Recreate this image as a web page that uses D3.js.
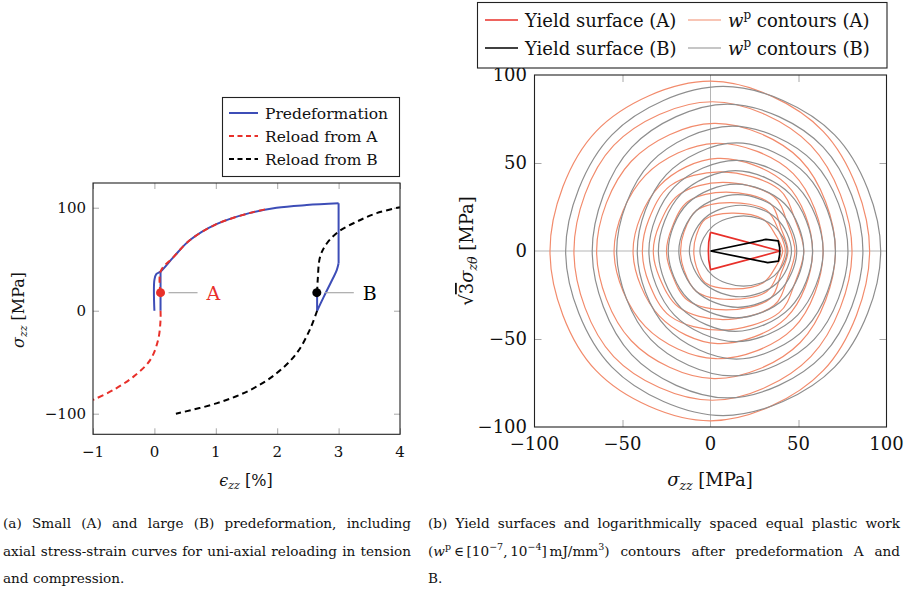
<!DOCTYPE html>
<html><head><meta charset="utf-8">
<script src="https://cdn.jsdelivr.net/npm/d3@7"></script>
<style>
body{margin:0;background:#fff;}
svg{display:block;}
text{font-family:"DejaVu Serif",serif;fill:#111;}
</style>
</head><body>
<svg id="c" width="904" height="590"></svg>
<script>
// ---------- data: left chart (strain %, stress MPa) ----------
const strainTicks = [-1, 0, 1, 2, 3, 4];
const stressTicks = [-100, 0, 100];
const predefLoad = [[0,0],[0,30],[0.03,35.5],[0.1,38],[0.31,52],[0.58,68.6],[1.01,84],[1.56,95],[1.99,100],[2.48,102.6],[3,104.3]];
const predefDrop = [[3,104.3],[3,46]];
const predefUnloadB = [[3,46],[2.97,39.5],[2.87,26.9],[2.76,13.7],[2.65,0]];
const predefEndB = [[2.65,0],[2.65,17.5]];
const predefUnloadA = [[0.1,38],[0.1,0]];
const reloadAT = [[0.1,17.5],[0.1,38],[0.31,52],[0.58,68.6],[1.01,84],[1.56,95],[1.85,99]];
const reloadAC = [[0.1,0],[0.1,-9],[0.06,-28.5],[-0.07,-48],[-0.34,-64],[-0.67,-77],[-1,-86.6]];
const reloadBT = [[2.65,17.5],[2.66,30],[2.7,52.6],[2.81,65.5],[3.0,76.8],[3.3,86.6],[3.62,94.7],[4.0,100.5]];
const reloadBC = [[2.65,0],[2.53,-18.6],[2.32,-41],[1.99,-60.8],[1.56,-77],[1.01,-90],[0.35,-100]];
const pointA = [0.1, 17.5];
const pointB = [2.645, 17.5];
const legendLeft = ["Predeformation", "Reload from A", "Reload from B"];

// ---------- data: right chart (sigma_zz, sqrt3 sigma_ztheta, MPa) ----------
const planeTicks = [-100, -50, 0, 50, 100];
const yieldA = [[0,10.6],[39.5,0],[0,-10.6],[-1,-5],[-1.2,0],[-1,5],[0,10.6]];
const yieldB = [[0,0],[31.5,6.6],[38.5,5.7],[39.3,2],[39.3,-2],[38.6,-5.8],[32.5,-6.6],[0,0]];
const contoursA = [
  [[90.4,0],[64,68],[0,96.5],[-65,68],[-91.2,0],[-65,-68],[0,-96.5],[64,-68]],
  [[80.4,0],[57,60],[1,84.8],[-55,60],[-77.6,0],[-55,-60],[1,-84.8],[57,-60]],
  [[71,0],[51,52],[2,72.5],[-45,51],[-64.7,0],[-45,-51],[2,-72.5],[51,-52]],
  [[64,0],[47,44],[3,61.2],[-37,43],[-54.8,0],[-37,-43],[3,-61.2],[47,-44]],
  [[58,0],[43,38],[4,52.6],[-29,37],[-44,0],[-29,-37],[4,-52.6],[43,-38]],
  [[53,0],[48,18],[39,35],[6,45],[-23,37],[-35,18],[-38.7,0],[-35,-18],[-23,-37],[6,-45],[39,-35],[48,-18]],
  [[48,0],[44,15],[36,31],[7,39],[-18,32],[-29,15],[-32.5,0],[-29,-15],[-18,-32],[7,-39],[36,-31],[44,-15]],
  [[44,0],[40,13],[34,27],[9,33.5],[-13,28],[-22,13],[-25,0],[-22,-13],[-13,-28],[9,-33.5],[34,-27],[40,-13]],
  [[42.5,0],[39,11],[32,23],[11,27.5],[-8,23],[-15,11],[-17,0],[-15,-11],[-8,-23],[11,-27.5],[32,-23],[39,-11]],
  [[41,0],[37,9],[30,18],[12,21.5],[-3,18],[-8,9],[-9.5,0],[-8,-9],[-3,-18],[12,-21.5],[30,-18],[37,-9]]
];
const contoursB = [
  [[96.7,0],[70.5,66],[7.2,93.5],[-56,66],[-82.3,0],[-56,-66],[7.2,-93.5],[70.5,-66]],
  [[86.6,0],[64,59],[9.7,83.5],[-44.7,59],[-67.2,0],[-44.7,-59],[9.7,-83.5],[64,-59]],
  [[78.1,0],[58.9,50.2],[12.4,71],[-34,50.2],[-53.3,0],[-34,-50.2],[12.4,-71],[58.9,-50.2]],
  [[71,0],[54.5,43.4],[14.7,61.4],[-25.1,43.4],[-41.6,0],[-25.1,-43.4],[14.7,-61.4],[54.5,-43.4]],
  [[64,0],[49.5,36.4],[14.5,51.5],[-20.5,36.4],[-35,0],[-20.5,-36.4],[14.5,-51.5],[49.5,-36.4]],
  [[58,0],[45.2,32.3],[14.2,45.7],[-16.8,32.3],[-29.6,0],[-16.8,-32.3],[14.2,-45.7],[45.2,-32.3]],
  [[53,0],[42,27],[14.5,38],[-13,27],[-24,0],[-13,-27],[14.5,-38],[42,-27]],
  [[49,0],[39,23],[15.5,32],[-8,23],[-18,0],[-8,-23],[15.5,-32],[39,-23]],
  [[46,0],[37.5,18.5],[17,26],[-3.5,18.5],[-12,0],[-3.5,-18.5],[17,-26],[37.5,-18.5]],
  [[43.5,0],[36.3,14],[18.75,20],[1.2,14],[-6,0],[1.2,-14],[18.75,-20],[36.3,-14]]
];

// ---------- styles ----------
const C = {blue:"#3d4db7", red:"#e8302a", black:"#000", salmon:"#f28b6c", gray:"#8e8e8e", tick:"#a8a8a8"};

const svg = d3.select("#c");
const defs = svg.append("defs");

// ================= LEFT CHART =================
const xL = d3.scaleLinear().domain([-1,4]).range([93,400]);
const yL = d3.scaleLinear().domain([-120,124]).range([434.3,183]);
defs.append("clipPath").attr("id","clipL").append("rect")
  .attr("x",93).attr("y",183).attr("width",307).attr("height",251.3);

const gL = svg.append("g");
function tickStyle(g){ g.select(".domain").remove(); g.selectAll(".tick line").attr("stroke",C.tick).attr("stroke-width",1); g.selectAll("text").remove(); }
gL.append("g").attr("transform",`translate(0,${yL.range()[0]})`).call(d3.axisBottom(xL).tickValues(strainTicks).tickSize(-6)).call(tickStyle);
gL.append("g").attr("transform",`translate(0,${yL.range()[1]})`).call(d3.axisTop(xL).tickValues(strainTicks).tickSize(-6)).call(tickStyle);
gL.append("g").attr("transform",`translate(${xL.range()[0]},0)`).call(d3.axisLeft(yL).tickValues(stressTicks).tickSize(-6)).call(tickStyle);
gL.append("g").attr("transform",`translate(${xL.range()[1]},0)`).call(d3.axisRight(yL).tickValues(stressTicks).tickSize(-6)).call(tickStyle);

gL.selectAll(".xl").data(strainTicks).join("text").attr("x",d=>xL(d)).attr("y",457)
  .attr("text-anchor","middle").attr("font-size",15).text(d=>d3.format("")(d));
gL.selectAll(".yl").data(stressTicks).join("text").attr("x",86).attr("y",d=>yL(d)+5)
  .attr("text-anchor","end").attr("font-size",15).text(d=>d3.format("")(d));

const lineL = d3.line().x(d=>xL(d[0])).y(d=>yL(d[1]));
const curveL = d3.line().x(d=>xL(d[0])).y(d=>yL(d[1])).curve(d3.curveCatmullRom.alpha(0.5));
const pl = gL.append("g").attr("clip-path","url(#clipL)");

[[predefLoad,curveL],[predefDrop,lineL],[predefUnloadB,curveL],[predefEndB,lineL],[predefUnloadA,lineL]].forEach(([d,gen])=>{
  pl.append("path").attr("d",gen(d)).attr("fill","none").attr("stroke",C.blue).attr("stroke-width",2).attr("stroke-linejoin","round");
});
[[reloadAT,C.red],[reloadAC,C.red],[reloadBT,C.black],[reloadBC,C.black]].forEach(([d,c])=>{
  pl.append("path").attr("d",curveL(d)).attr("fill","none").attr("stroke",c).attr("stroke-width",2).attr("stroke-dasharray","6,4");
});
gL.append("rect").attr("x",93).attr("y",183).attr("width",307).attr("height",251.3).attr("fill","none").attr("stroke","#222").attr("stroke-width",1.1);

[[pointA,C.red,"A"],[pointB,C.black,"B"]].forEach(([p,c,t])=>{
  const px = xL(p[0]), py = yL(p[1]);
  gL.append("line").attr("x1",px+8).attr("x2",px+37).attr("y1",py).attr("y2",py).attr("stroke","#aaa").attr("stroke-width",1.2);
  gL.append("circle").attr("cx",px).attr("cy",py).attr("r",4.5).attr("fill",c);
  gL.append("text").attr("x",px+46).attr("y",py+7).attr("font-size",19).style("fill",c).text(t);
});

const xlabL = gL.append("text").attr("x",246).attr("y",486).attr("text-anchor","middle").attr("font-size",16);
xlabL.append("tspan").attr("font-style","italic").text("ϵ");
xlabL.append("tspan").attr("font-style","italic").attr("font-size",11).attr("dy",3).text("zz");
xlabL.append("tspan").attr("dy",-3).text(" [%]");
const ylabL = gL.append("text").attr("transform","translate(24,310) rotate(-90)").attr("text-anchor","middle").attr("font-size",16);
ylabL.append("tspan").attr("font-style","italic").text("σ");
ylabL.append("tspan").attr("font-style","italic").attr("font-size",11).attr("dy",3).text("zz");
ylabL.append("tspan").attr("dy",-3).text(" [MPa]");

const lgL = svg.append("g");
lgL.append("rect").attr("x",222.5).attr("y",97.5).attr("width",177).attr("height",79).attr("fill","#fff").attr("stroke","#222").attr("stroke-width",1.1);
const legStyles = [[C.blue,null],[C.red,"5,3.5"],[C.black,"5,3.5"]];
legendLeft.forEach((t,i)=>{
  const y = 113 + i*23;
  lgL.append("line").attr("x1",229).attr("x2",258).attr("y1",y).attr("y2",y)
    .attr("stroke",legStyles[i][0]).attr("stroke-width",2).attr("stroke-dasharray",legStyles[i][1]);
  lgL.append("text").attr("x",265).attr("y",y+5.5).attr("font-size",15.5).text(t);
});

// ================= RIGHT CHART =================
const xR = d3.scaleLinear().domain([-100,100]).range([534.5,886.5]);
const yR = d3.scaleLinear().domain([-100,100]).range([427,75]);
defs.append("clipPath").attr("id","clipR").append("rect")
  .attr("x",534.5).attr("y",75).attr("width",352).attr("height",352);
const gR = svg.append("g");
gR.append("line").attr("x1",xR(0)).attr("x2",xR(0)).attr("y1",yR(100)).attr("y2",yR(-100)).attr("stroke","#b5b5b5").attr("stroke-width",1);
gR.append("line").attr("y1",yR(0)).attr("y2",yR(0)).attr("x1",xR(-100)).attr("x2",xR(100)).attr("stroke","#b5b5b5").attr("stroke-width",1);
const innerTicks = [-50,50];
gR.append("g").attr("transform",`translate(0,427)`).call(d3.axisBottom(xR).tickValues(innerTicks).tickSize(-7)).call(tickStyle);
gR.append("g").attr("transform",`translate(0,75)`).call(d3.axisTop(xR).tickValues(innerTicks).tickSize(-7)).call(tickStyle);
gR.append("g").attr("transform",`translate(534.5,0)`).call(d3.axisLeft(yR).tickValues(innerTicks).tickSize(-7)).call(tickStyle);
gR.append("g").attr("transform",`translate(886.5,0)`).call(d3.axisRight(yR).tickValues(innerTicks).tickSize(-7)).call(tickStyle);

const pr = gR.append("g").attr("clip-path","url(#clipR)");
const closedR = d3.line().x(d=>xR(d[0])).y(d=>yR(d[1])).curve(d3.curveCatmullRomClosed.alpha(0.5));
const lineR = d3.line().x(d=>xR(d[0])).y(d=>yR(d[1]));
contoursA.forEach(c=>pr.append("path").attr("d",closedR(c)).attr("fill","none").attr("stroke",C.salmon).attr("stroke-width",1.2));
contoursB.forEach(c=>pr.append("path").attr("d",closedR(c)).attr("fill","none").attr("stroke",C.gray).attr("stroke-width",1.2));
pr.append("path").attr("d",lineR(yieldA)).attr("fill","none").attr("stroke",C.red).attr("stroke-width",1.7).attr("stroke-linejoin","round");
pr.append("path").attr("d",lineR(yieldB)).attr("fill","none").attr("stroke",C.black).attr("stroke-width",1.7).attr("stroke-linejoin","round");
gR.append("rect").attr("x",534.5).attr("y",75).attr("width",352).attr("height",352).attr("fill","none").attr("stroke","#222").attr("stroke-width",1.1);

gR.selectAll(".xr").data(planeTicks).join("text").attr("x",d=>xR(d)).attr("y",450)
  .attr("text-anchor","middle").attr("font-size",18).text(d=>d3.format("")(d));
gR.selectAll(".yr").data(planeTicks).join("text").attr("x",527).attr("y",d=>yR(d)+6)
  .attr("text-anchor","end").attr("font-size",18).text(d=>d3.format("")(d));

const xlabR = gR.append("text").attr("x",710).attr("y",486).attr("text-anchor","middle").attr("font-size",18);
xlabR.append("tspan").attr("font-style","italic").text("σ");
xlabR.append("tspan").attr("font-style","italic").attr("font-size",12.5).attr("dy",4).text("zz");
xlabR.append("tspan").attr("dy",-4).text(" [MPa]");
const ylabR = gR.append("text").attr("transform","translate(473,251) rotate(-90)").attr("text-anchor","middle").attr("font-size",18);
ylabR.append("tspan").text("√");
ylabR.append("tspan").style("text-decoration","overline").text("3");
ylabR.append("tspan").attr("font-style","italic").text("σ");
ylabR.append("tspan").attr("font-style","italic").attr("font-size",12.5).attr("dy",4).text("zθ");
ylabR.append("tspan").attr("dy",-4).text(" [MPa]");

const lgR = svg.append("g");
lgR.append("rect").attr("x",477.5).attr("y",2.5).attr("width",409.5).attr("height",65.5).attr("fill","#fff").attr("stroke","#222").attr("stroke-width",1.1);
const legR = [
  {x:485, y:20, c:C.red, w:1.7, t:"Yield surface (A)", wp:false},
  {x:688, y:20, c:C.salmon, w:1.2, t:" contours (A)", wp:true},
  {x:485, y:48, c:C.black, w:1.7, t:"Yield surface (B)", wp:false},
  {x:688, y:48, c:C.gray, w:1.2, t:" contours (B)", wp:true}
];
legR.forEach(e=>{
  lgR.append("line").attr("x1",e.x).attr("x2",e.x+33).attr("y1",e.y).attr("y2",e.y).attr("stroke",e.c).attr("stroke-width",e.w);
  const t = lgR.append("text").attr("x",e.x+40).attr("y",e.y+6.5).attr("font-size",18);
  if(e.wp){
    t.append("tspan").attr("font-style","italic").text("w");
    t.append("tspan").attr("font-size",12).attr("dy",-8).text("p");
    t.append("tspan").attr("dy",8).text(e.t);
  } else t.text(e.t);
});

// ================= CAPTIONS =================
function justify(sel, width){
  const node = sel.node();
  const L0 = node.getComputedTextLength();
  const n = (node.textContent.match(/ /g)||[]).length;
  if(n>0) sel.style("word-spacing", Math.max(0,(width-L0)/n)+"px");
}
const capFS = 13.6;
const a1 = svg.append("text").attr("x",3).attr("y",528).attr("font-size",capFS).text("(a) Small (A) and large (B) predeformation, including");
justify(a1,408);
const a2 = svg.append("text").attr("x",3).attr("y",556).attr("font-size",capFS).text("axial stress-strain curves for uni-axial reloading in tension");
justify(a2,408);
svg.append("text").attr("x",3).attr("y",583).attr("font-size",capFS).text("and compression.");

const capB = svg.append("g");
const b1 = capB.append("text").attr("x",428).attr("y",528).attr("font-size",capFS).text("(b) Yield surfaces and logarithmically spaced equal plastic work");
justify(b1,472);
const b2 = capB.append("text").attr("x",428).attr("y",556).attr("font-size",capFS);
b2.append("tspan").text("(");
b2.append("tspan").attr("font-style","italic").text("w");
b2.append("tspan").attr("font-size",9.5).attr("dy",-6).text("p");
b2.append("tspan").attr("dy",6).text("\u2009∈\u2009[10");
b2.append("tspan").attr("font-size",9.5).attr("dy",-6).text("−7");
b2.append("tspan").attr("dy",6).text(",\u200910");
b2.append("tspan").attr("font-size",9.5).attr("dy",-6).text("−4");
b2.append("tspan").attr("dy",6).text("]\u2009mJ/mm");
b2.append("tspan").attr("font-size",9.5).attr("dy",-6).text("3");
b2.append("tspan").attr("dy",6).text(") contours after predeformation A and");
justify(b2,472);
capB.append("text").attr("x",428).attr("y",583).attr("font-size",capFS).text("B.");
</script>
</body></html>
